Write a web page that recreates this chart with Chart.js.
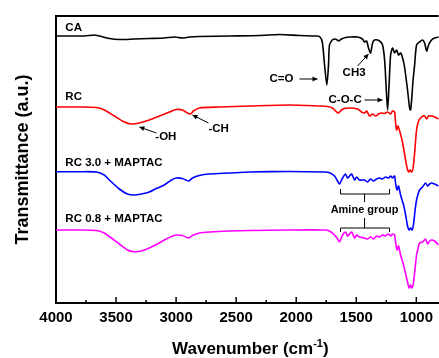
<!DOCTYPE html>
<html><head><meta charset="utf-8">
<script src="https://cdn.jsdelivr.net/npm/chart.js@4/dist/chart.umd.min.js"></script>
<style>html,body{margin:0;padding:0;background:#fff;overflow:hidden}canvas{display:block}</style>
</head><body>
<canvas id="c" width="439" height="358"></canvas>
<script>
// ---- data (wavenumber in cm-1, transmittance in arbitrary stacked units) ----
const xTickLabels = [4000, 3500, 3000, 2500, 2000, 1500, 1000];
const seriesNames = ['CA', 'RC', 'RC 3.0 + MAPTAC', 'RC 0.8 + MAPTAC'];

const caWn = [4000,3889,3764,3681,3639,3556,3473,3348,3223,3098,3014,2948,2889,2806,2556,2306,2139,1973,1839,1806,1783,1764,1745,1731,1723,1700,1681,1664,1648,1623,1589,1556,1489,1448,1431,1414,1398,1381,1364,1348,1306,1281,1264,1252,1239,1227,1214,1198,1181,1164,1148,1131,1114,1098,1073,1056,1048,1039,1027,1014,998,973,948,931,914,898,873,848,814];
const caT  = [267,267,267,268,267,264.5,263.5,264,264.5,265,266,265,266,266.5,267,267.5,268.5,267.5,267,266.5,261,238,218,238,258,263,264,263.5,262,264,265.5,266,266,264,261,262,255,250,260,263,262,258,243,218,193,218,248,255,250,253,248,250,245,236,213,195,193,203,223,238,258,261,263,260,252,258,263,265,266];

const rcWn = [4000,3806,3664,3598,3514,3431,3373,3306,3223,3139,3056,2998,2948,2906,2881,2856,2806,2639,2389,2056,1806,1739,1698,1673,1648,1623,1598,1556,1489,1456,1431,1414,1389,1364,1339,1314,1289,1264,1239,1214,1198,1181,1173,1164,1152,1139,1123,1106,1089,1077,1064,1052,1039,1027,1014,998,981,956,931,914,898,873,848,814];
const rcT  = [196,196,195.5,193,187,181,179,180,183,187,191,193.5,193,190,189,192,195,196,197,198,197,196.5,195,192,190,193,194.5,195,194,191,190,192,187,189,187,189,190,189.5,191,189,192,191,181,173,177,172,165,155,143,135,131,133,131,135,150,173,182,186,187,184,187,187,186,184];

const rc30Wn = [4000,3806,3664,3598,3556,3473,3406,3348,3289,3223,3156,3098,3039,2998,2948,2897,2864,2806,2723,2556,2389,2056,1764,1723,1681,1656,1639,1614,1589,1573,1556,1539,1514,1498,1473,1431,1406,1381,1356,1331,1306,1281,1256,1231,1214,1198,1181,1173,1160,1148,1131,1106,1089,1073,1060,1048,1035,1023,1010,998,985,973,948,923,906,889,873,848,814];
const rc30T  = [131.3,131.3,131,128,123,114,109,108,109,111,115,118,123,125,124.5,122,125,127.5,129,130,131,131.5,131,130.3,127,122,119,125,129,125,127,129,123,126,123,123,121,124,122,124,125,124,126,125,127,125,127,120,113,117,108,98,88,77,73,75,73,79,93,103,109,113,116,120,117,119,120,119,117];

const rc08Wn = [4000,3806,3664,3598,3556,3473,3406,3348,3289,3223,3156,3098,3039,2998,2948,2897,2864,2806,2723,2556,2389,2056,1764,1723,1681,1656,1639,1614,1589,1573,1556,1539,1514,1498,1473,1431,1406,1381,1356,1331,1306,1281,1256,1231,1214,1198,1181,1173,1160,1148,1131,1106,1089,1073,1060,1048,1035,1023,1010,998,985,973,948,923,906,889,873,848,814];
const rc08T  = [73,73,72.5,70,66.5,59,53,51.3,52,55,59,63,66.5,68,67.5,65,67.5,70,71,72,72.5,73,73,72,68,64,61.3,68,71,67,69,71,65,68,66,65,64,66,64,67,66,68,67,69,67,69,68,61,53,57,48,38,29,21,15,18,15,21,35,48,55,60,61,64,59,62,63,62,58];

const seriesColors = ['#000000', '#ff0000', '#0000ff', '#ff00ff'];

// ---- annotations (data coordinates) ----
const notes = {
  labels: [
    {text: 'CA', x: 3922, y: 275, align: 'left'},
    {text: 'RC', x: 3922, y: 206, align: 'left'},
    {text: 'RC 3.0 + MAPTAC', x: 3922, y: 140, align: 'left'},
    {text: 'RC 0.8 + MAPTAC', x: 3922, y: 84, align: 'left'},
    {text: 'C=O', x: 2222, y: 224, align: 'left'},
    {text: 'CH3', x: 1614, y: 230, align: 'left'},
    {text: 'C-O-C', x: 1731, y: 203, align: 'left'},
    {text: '-OH', x: 3173, y: 166, align: 'left'},
    {text: '-CH', x: 2731, y: 174, align: 'left'},
    {text: 'Amine group', x: 1431, y: 93, align: 'center', small: true}
  ],
  arrows: [
    [1973, 224, 1823, 224],
    [1489, 237, 1398, 249],
    [1431, 203, 1281, 203],
    [3164, 170, 3306, 176],
    [2731, 180, 2864, 188]
  ],
  brackets: [
    {x1: 1631, x2: 1223, xc: 1431, y: 109, yEnd: 114, yStem: 101},
    {x1: 1631, x2: 1223, xc: 1431, y: 75, yEnd: 71, yStem: 85}
  ]
};

const FONT = "'Liberation Sans', Arial, sans-serif";
Chart.defaults.font.family = FONT;

const wnSets = [caWn, rcWn, rc30Wn, rc08Wn];
const tSets = [caT, rcT, rc30T, rc08T];

const datasets = seriesNames.map((name, k) => ({
  label: name,
  data: wnSets[k].map((w, i) => ({x: w, y: tSets[k][i]})),
  borderColor: seriesColors[k],
  borderWidth: 1.6,
  pointRadius: 0,
  tension: 0.25,
  fill: false
}));

function arrow(ctx, x1, y1, x2, y2) {
  ctx.beginPath(); ctx.moveTo(x1, y1); ctx.lineTo(x2, y2); ctx.stroke();
  const a = Math.atan2(y2 - y1, x2 - x1), L = 5, W = 2.5;
  ctx.beginPath();
  ctx.moveTo(x2, y2);
  ctx.lineTo(x2 - L * Math.cos(a) + W * Math.sin(a), y2 - L * Math.sin(a) - W * Math.cos(a));
  ctx.lineTo(x2 - L * Math.cos(a) - W * Math.sin(a), y2 - L * Math.sin(a) + W * Math.cos(a));
  ctx.closePath(); ctx.fill();
}

const decor = {
  id: 'decor',
  afterDraw(chart) {
    const {ctx, chartArea: ca, scales: {x, y}} = chart;
    ctx.save();
    ctx.strokeStyle = '#000'; ctx.fillStyle = '#000';
    // top frame line
    ctx.lineWidth = 2;
    ctx.beginPath(); ctx.moveTo(ca.left - 1, ca.top); ctx.lineTo(ca.right, ca.top); ctx.stroke();
    // inside ticks
    ctx.lineWidth = 1.5;
    for (let v = 4000; v >= x.min; v -= 250) {
      const px = x.getPixelForValue(v);
      const len = (v % 500 === 0) ? 6 : 3;
      ctx.beginPath(); ctx.moveTo(px, ca.bottom); ctx.lineTo(px, ca.bottom - len); ctx.stroke();
    }
    // annotation labels
    ctx.textBaseline = 'middle';
    notes.labels.forEach(l => {
      ctx.font = 'bold ' + (l.small ? 11 : 11.5) + 'px ' + FONT;
      ctx.textAlign = l.align;
      ctx.fillText(l.text, x.getPixelForValue(l.x), y.getPixelForValue(l.y));
    });
    ctx.lineWidth = 1;
    notes.arrows.forEach(a => arrow(ctx, x.getPixelForValue(a[0]), y.getPixelForValue(a[1]), x.getPixelForValue(a[2]), y.getPixelForValue(a[3])));
    notes.brackets.forEach(b => {
      const X1 = x.getPixelForValue(b.x1), X2 = x.getPixelForValue(b.x2), XC = x.getPixelForValue(b.xc);
      const Y = y.getPixelForValue(b.y), YE = y.getPixelForValue(b.yEnd), YS = y.getPixelForValue(b.yStem);
      ctx.beginPath();
      ctx.moveTo(X1, YE); ctx.lineTo(X1, Y); ctx.lineTo(X2, Y); ctx.lineTo(X2, YE);
      ctx.moveTo(XC, Y); ctx.lineTo(XC, YS);
      ctx.stroke();
    });
    // x-axis title with superscript
    const cx = (ca.left + ca.right) / 2 + 3, by = 354;
    ctx.textBaseline = 'alphabetic'; ctx.textAlign = 'left';
    const big = 'bold 17px ' + FONT, sup = 'bold 11px ' + FONT;
    const t1 = 'Wavenumber (cm', t2 = '-1', t3 = ')';
    ctx.font = big; const w1 = ctx.measureText(t1).width, w3 = ctx.measureText(t3).width;
    ctx.font = sup; const w2 = ctx.measureText(t2).width;
    let sx = cx - (w1 + w2 + w3) / 2;
    ctx.font = big; ctx.fillText(t1, sx, by);
    ctx.font = sup; ctx.fillText(t2, sx + w1, by - 7);
    ctx.font = big; ctx.fillText(t3, sx + w1 + w2, by);
    ctx.restore();
  }
};

new Chart(document.getElementById('c'), {
  type: 'scatter',
  data: {datasets: datasets.map(d => Object.assign(d, {showLine: true}))},
  options: {
    responsive: false,
    animation: false,
    devicePixelRatio: 1,
    layout: {padding: {top: 16, left: 0, right: 0, bottom: 0}},
    plugins: {legend: {display: false}, tooltip: {enabled: false}},
    scales: {
      x: {
        type: 'linear', reverse: true, min: 814, max: 4000,
        afterBuildTicks: s => { s.ticks = xTickLabels.map(v => ({value: v})); },
        afterFit: s => { s.height = 55; },
        grid: {display: false, drawTicks: false},
        border: {display: true, color: '#000', width: 2},
        ticks: {autoSkip: false, maxRotation: 0, padding: 6, color: '#000',
          font: {size: 15, weight: 'bold'}, callback: v => String(v)}
      },
      y: {
        min: 0, max: 287,
        afterFit: s => { s.width = 56; },
        grid: {display: false, drawTicks: false},
        border: {display: true, color: '#000', width: 2},
        ticks: {display: false},
        title: {display: true, text: 'Transmittance (a.u.)', color: '#000',
          font: {size: 18, weight: 'bold'}, padding: {top: 12, bottom: 0}}
      }
    }
  },
  plugins: [decor]
});
</script>
</body></html>
